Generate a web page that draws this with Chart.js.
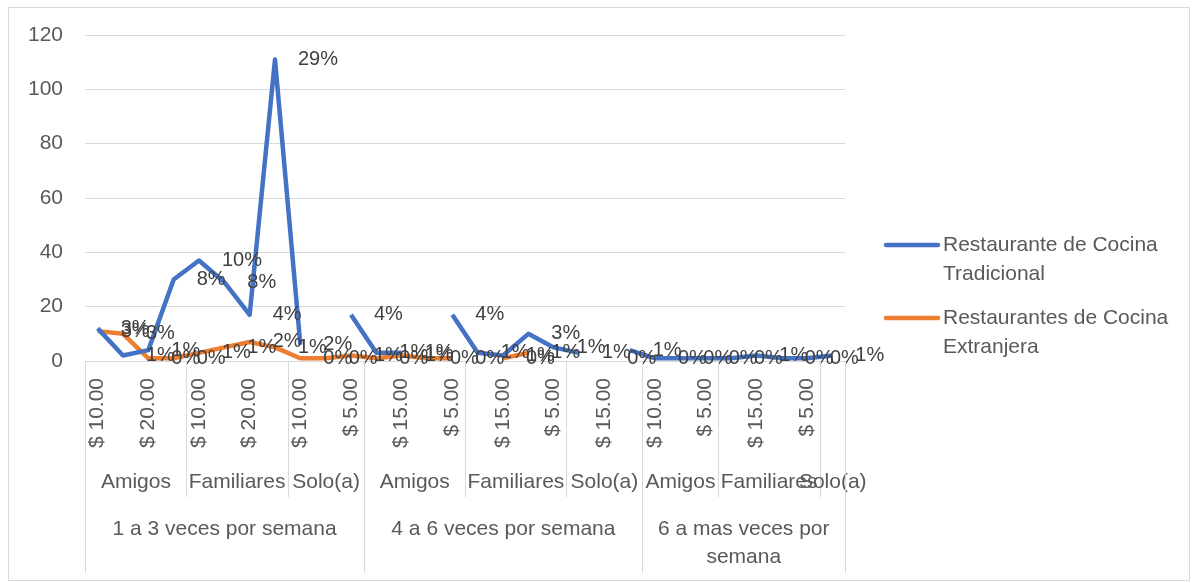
<!DOCTYPE html>
<html>
<head>
<meta charset="utf-8">
<script src="https://cdn.jsdelivr.net/npm/chart.js@4.4.1/dist/chart.umd.min.js"></script>
<style>
  body { margin: 0; background: #fff; }
  canvas { display: block; }
</style>
</head>
<body>
<canvas id="chart" width="1197" height="583"></canvas>
<script>
// precio por categoria (nivel inferior del eje)
const priceLabels = [
    '$ 10.00', '$ 15.00', '$ 20.00', '$ 5.00',
    '$ 10.00', '$ 15.00', '$ 20.00', '$ 5.00',
    '$ 10.00', '$ 15.00', '$ 5.00',
    '$ 10.00', '$ 15.00', '$ 20.00', '$ 5.00',
    '$ 10.00', '$ 15.00', '$ 20.00', '$ 5.00',
    '$ 10.00', '$ 15.00', '$ 5.00',
    '$ 10.00', '$ 15.00', '$ 5.00',
    '$ 10.00', '$ 15.00', '$ 20.00', '$ 5.00',
    '$ 5.00'
];
const companionLabels = ['Amigos', 'Familiares', 'Solo(a)', 'Amigos', 'Familiares', 'Solo(a)', 'Amigos', 'Familiares', 'Solo(a)'];
const companionSpans = [4, 4, 3, 4, 4, 3, 3, 4, 1];
const frequencyLabels = ['1 a 3 veces por semana', '4 a 6 veces por semana', '6 a mas veces por semana'];
const frequencySpans = [11, 11, 8];

const seriesNames = ['Restaurante de Cocina Tradicional', 'Restaurantes de Cocina Extranjera'];
const tradicional = [12, 2, 4, 30, 37, 29, 17, 111, 6, null, 17, 3, 3, null, 17, 3, 2, 10, 5, 3, null, 4, 1, 1, 1, 1, 2, 1, 1, 2];
const extranjera = [11, 10, 1, 1, 3, 5, 7, 5, 1, 1, 2, 1, 2, 1, 1, null, 1, 3, null, null, 1, null, null, null, null, null, null, null, null, null];

const yTicks = [0, 20, 40, 60, 80, 100, 120];

const FONT = '"Liberation Sans", Arial, sans-serif';
const AXIS_GRAY = '#595959';
const LINE_GRAY = '#d9d9d9';

// total general, los porcentajes de las etiquetas salen de aqui
const grandTotal = tradicional.concat(extranjera).reduce((s, v) => s + (v || 0), 0);

function wrapText(ctx, text, maxWidth) {
    const words = text.split(' ');
    const lines = [];
    let line = '';
    words.forEach(w => {
        const test = line ? line + ' ' + w : w;
        if (ctx.measureText(test).width > maxWidth && line) {
            lines.push(line);
            line = w;
        } else {
            line = test;
        }
    });
    if (line) lines.push(line);
    return lines;
}

const excelLook = {
    id: 'excelLook',
    beforeDraw(chart) {
        const ctx = chart.ctx;
        ctx.save();
        ctx.strokeStyle = LINE_GRAY;
        ctx.lineWidth = 1;
        ctx.strokeRect(8.5, 7.5, 1181, 573);
        ctx.restore();
    },
    afterDatasetsDraw(chart) {
        // etiquetas de datos (porcentaje del total)
        const ctx = chart.ctx;
        ctx.save();
        ctx.font = '20px ' + FONT;
        ctx.fillStyle = '#404040';
        ctx.textAlign = 'left';
        ctx.textBaseline = 'middle';
        chart.data.datasets.forEach((ds, di) => {
            const meta = chart.getDatasetMeta(di);
            ds.data.forEach((v, i) => {
                if (v === null) return;
                const pt = meta.data[i];
                const pct = Math.round(v / grandTotal * 100) + '%';
                ctx.fillText(pct, pt.x + 23, pt.y);
            });
        });
        ctx.restore();
    },
    afterDraw(chart) {
        const ctx = chart.ctx;
        const x = chart.scales.x;
        const area = chart.chartArea;
        const half = (x.getPixelForValue(1) - x.getPixelForValue(0)) / 2;
        const edge = i => i < priceLabels.length ? x.getPixelForValue(i) - half : x.getPixelForValue(priceLabels.length - 1) + half;

        ctx.save();
        ctx.strokeStyle = LINE_GRAY;
        ctx.lineWidth = 1;
        ctx.fillStyle = AXIS_GRAY;
        ctx.font = '21px ' + FONT;
        ctx.textAlign = 'center';
        ctx.textBaseline = 'middle';

        // segundo nivel: con quien
        let idx = 0;
        companionSpans.forEach((span, k) => {
            const x0 = Math.round(edge(idx)) + 0.5;
            const x1 = edge(idx + span);
            ctx.beginPath();
            ctx.moveTo(x0, area.bottom);
            ctx.lineTo(x0, 497);
            ctx.stroke();
            ctx.fillText(companionLabels[k], (x0 + x1) / 2, 482);
            idx += span;
        });

        // primer nivel: frecuencia
        idx = 0;
        frequencySpans.forEach((span, k) => {
            const x0 = Math.round(edge(idx)) + 0.5;
            const x1 = edge(idx + span);
            ctx.beginPath();
            ctx.moveTo(x0, area.bottom);
            ctx.lineTo(x0, 573);
            ctx.stroke();
            const lines = wrapText(ctx, frequencyLabels[k], x1 - x0 - 8);
            lines.forEach((ln, j) => ctx.fillText(ln, (x0 + x1) / 2, 529 + j * 28));
            idx += span;
        });
        const xEnd = Math.round(edge(priceLabels.length)) + 0.5;
        ctx.beginPath();
        ctx.moveTo(xEnd, area.bottom);
        ctx.lineTo(xEnd, 573);
        ctx.stroke();

        // leyenda a la derecha
        ctx.textAlign = 'left';
        const legendY = [245, 318];
        chart.data.datasets.forEach((ds, di) => {
            const y = legendY[di];
            ctx.strokeStyle = ds.borderColor;
            ctx.lineWidth = 4.5;
            ctx.lineCap = 'round';
            ctx.beginPath();
            ctx.moveTo(886, y);
            ctx.lineTo(938, y);
            ctx.stroke();
            ctx.fillStyle = AXIS_GRAY;
            wrapText(ctx, ds.label, 236).forEach((ln, j) => ctx.fillText(ln, 943, y + j * 29));
        });
        ctx.restore();
    }
};

new Chart(document.getElementById('chart'), {
    type: 'line',
    data: {
        labels: priceLabels,
        datasets: [
            {
                label: seriesNames[0],
                data: tradicional,
                borderColor: '#4472C4',
                backgroundColor: '#4472C4',
                borderWidth: 4.5,
                pointRadius: 0,
                borderJoinStyle: 'round',
                spanGaps: false
            },
            {
                label: seriesNames[1],
                data: extranjera,
                borderColor: '#ED7D31',
                backgroundColor: '#ED7D31',
                borderWidth: 4.5,
                pointRadius: 0,
                borderJoinStyle: 'round',
                spanGaps: false
            }
        ]
    },
    options: {
        responsive: false,
        animation: false,
        devicePixelRatio: 1,
        layout: { padding: { top: 35, right: 352, left: 0, bottom: 0 } },
        plugins: {
            legend: { display: false },
            tooltip: { enabled: false }
        },
        scales: {
            x: {
                offset: true,
                grid: { display: false },
                border: { display: true, color: LINE_GRAY, width: 1 },
                afterFit(scale) { scale.height = 222; },
                ticks: {
                    autoSkip: false,
                    maxRotation: 90,
                    minRotation: 90,
                    padding: 9,
                    color: AXIS_GRAY,
                    font: { family: FONT, size: 21 },
                    callback(value, index) { return index % 2 === 0 ? priceLabels[index] : ''; }
                }
            },
            y: {
                min: yTicks[0],
                max: yTicks[yTicks.length - 1],
                afterFit(scale) { scale.width = 85; },
                afterBuildTicks(scale) { scale.ticks = yTicks.map(v => ({ value: v })); },
                grid: { color: LINE_GRAY, drawTicks: false },
                border: { display: false },
                ticks: {
                    padding: 22,
                    color: AXIS_GRAY,
                    font: { family: FONT, size: 21 }
                }
            }
        }
    },
    plugins: [excelLook]
});
</script>
</body>
</html>
